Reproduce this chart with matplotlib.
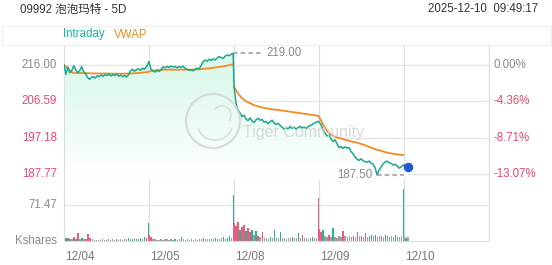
import numpy as np
import matplotlib
matplotlib.use("Agg")
import matplotlib.pyplot as plt
from matplotlib.patches import Rectangle, Ellipse, Arc
from matplotlib.transforms import blended_transform_factory

plt.rcParams['font.family'] = ['Liberation Sans', 'Noto Sans CJK SC', 'DejaVu Sans']

# ---------------- data ----------------
title = "09992 泡泡玛特 - 5D"
stamp = "2025-12-10  09:49:17"
day_labels = ["12/04", "12/05", "12/08", "12/09", "12/10"]

price_ticks = [216.00, 206.59, 197.18, 187.77]
price_tick_labels = ["216.00", "206.59", "197.18", "187.77"]
pct_tick_labels = ["0.00%", "-4.36%", "-8.71%", "-13.07%"]
vol_tick = 71.47
vol_tick_label = "71.47"

price_d1 = [216.0, 213.6, 215.5, 214.0, 214.6, 215.8, 214.8, 214.0, 214.5, 215.6, 214.3,
            213.8, 212.8, 212.3, 212.8, 213.0, 212.6, 213.2, 213.0, 213.4, 213.1, 213.5,
            213.3, 213.6, 213.2, 213.5, 213.3, 213.6, 213.1, 213.4, 213.0, 213.3, 212.9,
            213.5, 214.5, 214.9, 214.4, 214.8, 215.0, 214.6, 215.2, 214.9, 215.4, 216.4]
price_d2 = [216.9, 214.9, 214.5, 214.2, 214.6, 214.3, 214.8, 215.5, 215.3, 215.6, 215.4,
            215.7, 215.5, 215.6, 215.3, 215.6, 215.4, 215.7, 215.2, 214.9, 214.6, 214.8,
            214.5, 214.9, 215.2, 215.0, 215.9, 216.8, 217.3, 217.0, 217.5, 217.2, 217.6,
            217.3, 217.8, 218.2, 217.9, 217.7, 218.3, 218.6, 218.4, 218.8, 219.0]
price_d3 = [210.5, 206.0, 204.3, 203.6, 202.6, 203.0, 202.0, 201.6, 202.3, 201.5, 201.1,
            201.8, 202.2, 201.7, 201.9, 201.2, 201.4, 200.8, 201.3, 201.7, 201.0, 200.6,
            200.9, 200.4, 199.9, 199.4, 199.7, 199.5, 200.0, 199.6, 199.9, 199.4, 199.8,
            200.1, 199.7, 199.9, 199.5, 200.1, 200.3, 200.6, 200.9, 201.2, 201.4]
price_d4 = [201.3, 200.5, 199.2, 198.4, 197.6, 197.9, 196.8, 196.2, 196.6, 195.6, 194.6,
            194.9, 194.4, 194.8, 194.5, 194.6, 193.6, 193.0, 192.2, 191.6, 191.3, 191.7,
            191.2, 191.0, 190.8, 191.1, 190.6, 190.3, 189.4, 187.5, 188.8, 189.6, 190.4,
            190.9, 191.1, 190.7, 190.5, 190.1, 190.3, 189.8, 189.3, 189.6, 190.1]
price_d5 = [190.0, 189.4, 189.7]

vwap_d1 = [216.0, 214.0, 213.9, 213.85, 213.8, 213.8, 213.75, 213.75, 213.8, 213.95, 214.2]
vwap_d2 = [214.3, 214.7, 214.8, 214.8, 214.8, 214.8, 214.9, 215.1, 215.4, 215.7, 216.2]
vwap_d3 = [210.4, 208.6, 207.4, 206.6, 206.1, 205.6, 205.3, 205.0, 204.8, 204.6, 204.5,
           204.35, 204.2, 204.05, 203.9, 203.75, 203.6, 203.45, 203.3, 203.15, 203.0, 202.85]
vwap_d4 = [202.6, 200.6, 198.9, 197.9, 197.4, 197.1, 196.8, 196.5, 196.2, 196.0, 195.7,
           195.4, 195.0, 194.6, 194.2, 193.9, 193.6, 193.3, 193.1, 192.9, 192.8, 192.7]
vwap_d5 = [190.0, 189.8, 189.7]

# volume in thousand shares, direction: u=up, d=down, n=unchanged
vol_d1 = [9, 6, 5, 4, 3, 8, 4, 15, 3, 5, 3, 4, 14, 5, 3, 2, 1, 2, 1, 3, 2, 2, 3, 2, 3, 2,
          3, 2, 3, 2, 4, 3, 6, 3, 4, 5, 3, 4, 6, 4, 8, 5, 35]
dir_d1 = "dudun" "dudnu" "ndddn" "nnnnn" "nunnn" "nunnn" "nnunu" "nunun" "udu"
vol_d2 = [12, 8, 4, 3, 2, 2, 3, 2, 4, 3, 2, 3, 2, 3, 2, 3, 8, 3, 2, 3, 2, 3, 2, 3, 2, 4,
          3, 5, 4, 3, 4, 3, 4, 5, 4, 3, 5, 8, 4, 6, 10, 5, 91]
dir_d2 = "ddnnn" "nnnnn" "nnnun" "nunnn" "nnnnn" "nnunn" "nnnun" "nnunu" "unu"
vol_d3 = [35, 30, 38, 22, 28, 32, 20, 25, 18, 22, 12, 20, 10, 8, 18, 6, 5, 4, 8, 5, 22, 6,
          5, 18, 6, 5, 4, 6, 5, 8, 6, 5, 15, 6, 12, 5, 6, 4, 6, 8, 5, 6, 86]
dir_d3 = "dddud" "duddu" "nudnd" "nnnun" "unnun" "nnnnu" "nnund" "nnnnu" "nnd"
vol_d4 = [23, 18, 22, 10, 8, 12, 7, 25, 8, 6, 10, 7, 20, 9, 8, 10, 7, 9, 8, 18, 10, 9, 8,
          15, 8, 10, 12, 9, 11, 8, 9, 10, 8, 12, 9, 8, 10, 7, 12, 8, 7, 9, 103]
dir_d4 = "ddunn" "dnunn" "nndnn" "nndnd" "ndndn" "udnun" "ndnun" "nnnun" "nnu"
vol_d5 = [10, 6, 8]
dir_d5 = "nun"

prices = [price_d1, price_d2, price_d3, price_d4, price_d5]
vwaps = [vwap_d1, vwap_d2, vwap_d3, vwap_d4, vwap_d5]
vols = [vol_d1, vol_d2, vol_d3, vol_d4, vol_d5]
dirs = [dir_d1, dir_d2, dir_d3, dir_d4, dir_d5]

# ---------------- style ----------------
W, H = 552, 265
TEAL = "#17a98f"
ORANGE = "#f38a22"
RED = "#e8486b"
GRAY_TXT = "#8a8a8a"
GRID = "#e4e4e4"
FULL_STEP = 0.99 / 42  # day fraction per sample of a full day


def day_x(d, n, full=True):
    if full:
        return d + np.arange(n) * (0.99 / (n - 1))
    return d + np.arange(n) * FULL_STEP


px = 1.0 / 85.0  # one pixel in day units

fig = plt.figure(figsize=(W / 100, H / 100), dpi=100)
fig.patch.set_facecolor("white")


def fr(x0, y0, x1, y1):
    return [x0 / W, 1 - y1 / H, (x1 - x0) / W, (y1 - y0) / H]


ax = fig.add_axes(fr(64, 45, 489, 180))
axv = fig.add_axes(fr(64, 180, 489, 241))

y_top = 216.0 + 20 / 3.86
y_bot = 187.77 - 6 / 3.86
ax.set_xlim(0, 5)
ax.set_ylim(y_bot, y_top)
axv.set_xlim(0, 5)
axv.set_ylim(0, vol_tick * 61 / 36)

# price line
xs_all, ps_all = [], []
for d, p in enumerate(prices):
    xs_all.append(day_x(d, len(p), full=(d < 4)))
    ps_all.append(np.array(p))
X = np.concatenate(xs_all)
P = np.concatenate(ps_all)

# gradient fill
poly = ax.fill_between(X, P, y_bot, facecolor="none", edgecolor="none")
grad = np.linspace(0, 1, 256).reshape(-1, 1)
top_c = np.array([0.84, 0.97, 0.91])
bot_c = np.array([1.0, 1.0, 1.0])
img = top_c[None, None, :] * (1 - grad[:, :, None]) + bot_c[None, None, :] * grad[:, :, None]
im = ax.imshow(img, extent=[0, 5, y_bot, max(P)], origin="upper", aspect="auto", zorder=1)
path = poly.get_paths()[0]
im.set_clip_path(path, transform=ax.transData)

for d in range(5):
    xv = day_x(d, len(vwaps[d]), full=(d < 4))
    ax.plot(xv, vwaps[d], color=ORANGE, lw=1.3, zorder=3, solid_joinstyle="round")
ax.plot(X, P, color=TEAL, lw=1.1, zorder=4, solid_joinstyle="round")

# grid
for a in (ax, axv):
    a.set_xticks(range(6))
    a.tick_params(length=0, labelbottom=False, labelleft=False)
    a.grid(True, axis="x", color="#dcdcdc", lw=0.8, zorder=0)
    a.set_axisbelow(True)
    for s in a.spines.values():
        s.set_color("#dcdcdc")
        s.set_linewidth(0.8)
ax.spines["bottom"].set_visible(False)
axv.spines["top"].set_visible(False)

ax.set_yticks(price_ticks)
ax.grid(True, axis="y", color=GRID, lw=0.9)
axv.set_yticks([vol_tick])
axv.grid(True, axis="y", color=GRID, lw=0.9)

# y labels
tl = blended_transform_factory(ax.transAxes, ax.transData)
for i, (v, lab, pl) in enumerate(zip(price_ticks, price_tick_labels, pct_tick_labels)):
    c = GRAY_TXT if i == 0 else RED
    ax.text(-7 / 425, v, lab, transform=tl, ha="right", va="center", fontsize=8.3, color=c)
    ax.text(1 + 5 / 425, v, pl, transform=tl, ha="left", va="center", fontsize=8.3, color=c)
tv = blended_transform_factory(axv.transAxes, axv.transData)
axv.text(-7 / 425, vol_tick, vol_tick_label, transform=tv, ha="right", va="center",
         fontsize=8.3, color=GRAY_TXT)
axv.text(-7 / 425, 0, "Kshares", transform=tv, ha="right", va="center",
         fontsize=8.3, color=GRAY_TXT)

# volume bars
cmap = {"u": "#26b39a", "d": "#ec5a7c", "n": "#a0a0a0"}
for d in range(5):
    xv = day_x(d, len(vols[d]), full=(d < 4))
    cols = [cmap[c] for c in dirs[d]]
    axv.bar(xv, vols[d], width=1.1 * px, color=cols, align="center", zorder=2, linewidth=0)

# date labels
td = blended_transform_factory(axv.transData, fig.transFigure)
for d, lab in enumerate(day_labels):
    axv.text(d + 1 * px, 1 - 256.5 / H, lab, transform=td, ha="left", va="center",
             fontsize=8.5, color="#777777")

# max / min annotations
imax = int(np.argmax(P))
imin = int(np.argmin(P))
ax.plot([X[imax], X[imax] + 28 * px], [P[imax], P[imax]], color="#999999", lw=1.1,
        ls=(0, (3, 2)), zorder=5)
ax.text(X[imax] + 33 * px, P[imax], f"{P[imax]:.2f}", ha="left", va="center",
        fontsize=8.3, color="#888888", zorder=6)
ax.plot([X[imin], 4.0], [P[imin], P[imin]], color="#999999", lw=1.1,
        ls=(0, (3, 2)), zorder=5)
ax.text(X[imin] - 5 * px, P[imin], f"{P[imin]:.2f}", ha="right", va="center",
        fontsize=8.3, color="#888888", zorder=6)

# last point dot
ax.scatter([X[-1]], [P[-1]], s=34, color="#1e5bd9", zorder=7, clip_on=False)

# watermark
cx, cy = 213 / W, 1 - 121 / H
fig.patches.append(Ellipse((cx, cy), 54 / W, 54 / H, transform=fig.transFigure,
                           facecolor="none", edgecolor="#d4d4d4", lw=1.6, alpha=0.8))
fig.patches.append(Arc((cx + 2 / W, cy - 4 / H), 34 / W, 30 / H, theta1=200, theta2=340,
                       transform=fig.transFigure, edgecolor="#d8d8d8", lw=1.3, alpha=0.8))
fig.patches.append(Arc((cx + 9 / W, cy + 6 / H), 18 / W, 18 / H, theta1=-60, theta2=120,
                       transform=fig.transFigure, edgecolor="#d8d8d8", lw=1.3, alpha=0.8))
fig.text(243 / W, 1 - 132 / H, "Tiger Community", fontsize=11.5, color="#d2d2d2",
         ha="left", va="center", alpha=0.85)

# header
fig.patches.append(Rectangle((2 / W, 1 - 45 / H), 549 / W, 19 / H, transform=fig.transFigure,
                             facecolor="none", edgecolor="#eeeeee", lw=0.8))
fig.text(20 / W, 1 - 9.5 / H, title, fontsize=8.3, color="#333333", ha="left", va="center")
fig.text(538 / W, 1 - 9.5 / H, stamp, fontsize=8.3, color="#333333", ha="right", va="center")
fig.text(63 / W, 1 - 34.5 / H, "Intraday", fontsize=8.3, color="#1fb09c", ha="left", va="center")
fig.text(114 / W, 1 - 34.5 / H, "VWAP", fontsize=8.3, color=ORANGE, ha="left", va="center")

fig.savefig("out.png", dpi=100)
